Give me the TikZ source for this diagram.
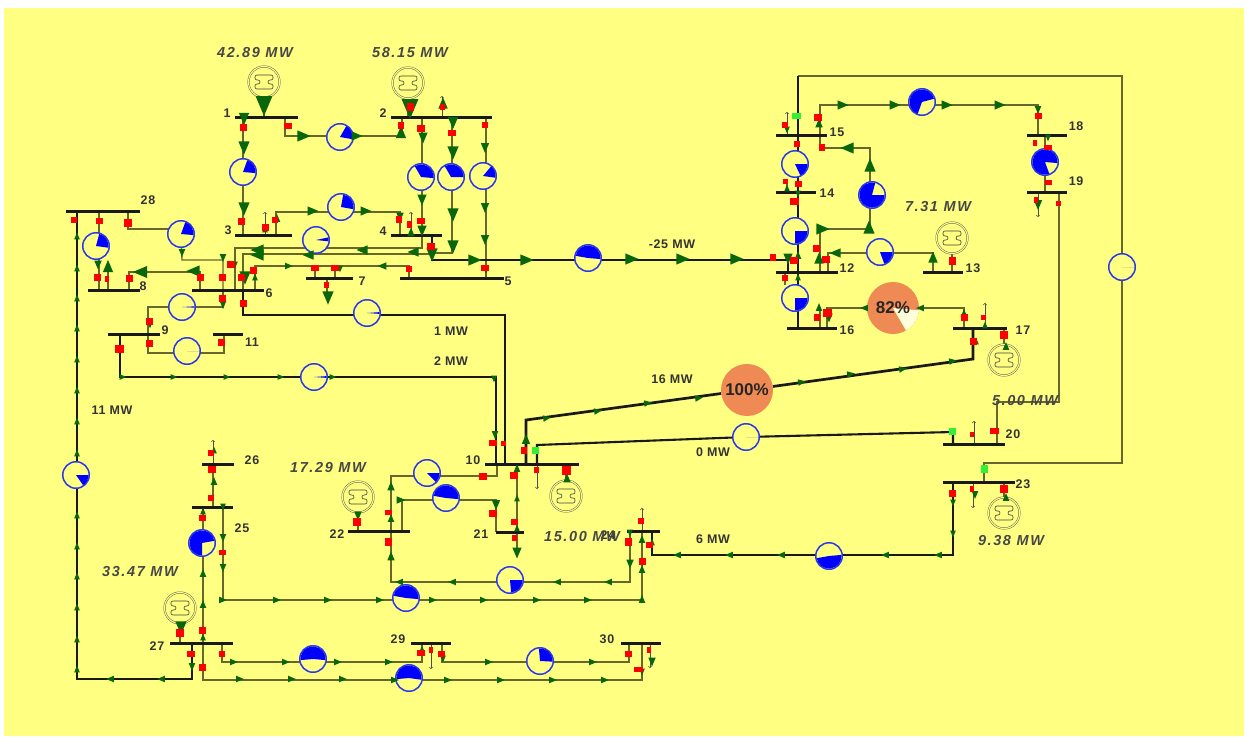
\documentclass[tikz,border=0pt]{standalone}
\usepackage{fontspec}
\setmainfont{Liberation Sans}
\newfontfamily\mwfont[LetterSpace=11]{Liberation Sans}
\newfontfamily\busfont[LetterSpace=5]{Liberation Sans}
\usetikzlibrary{backgrounds}
\definecolor{panel}{HTML}{FFFF82}
\definecolor{wire}{HTML}{66662F}
\definecolor{flowgreen}{HTML}{0A660A}
\definecolor{ringblue}{HTML}{2A3AE8}
\definecolor{hotorange}{HTML}{F08A55}
\definecolor{tiegreen}{HTML}{33F033}

\begin{document}
\begin{tikzpicture}[x=1pt,y=-1pt,
   busbar/.style={fill=black!90,inner sep=0pt,outer sep=0pt,minimum height=3pt},
   meter/.style={circle,draw=ringblue,fill=panel,line width=1.5pt,inner sep=0pt,outer sep=0pt,minimum size=26.5pt},
   hot/.style={circle,fill=hotorange,inner sep=0pt,outer sep=0pt,minimum size=#1},
   gen/.style={circle,draw=black!65,line width=.45pt,double=panel,double distance=1.1pt,inner sep=0pt,minimum size=31pt},
   genglyph/.style={draw=black!75,line width=.6pt,rounded corners=2pt},
   branch/.style={draw=wire,line width=1.3pt},
   heavy/.style={draw=black!90,line width=2.7pt},
   load/.style={draw=black!70,line width=.6pt,->},
   buslabel/.style={font=\busfont\bfseries\fontsize{12.5}{12.5}\selectfont,text=black!80,inner sep=0pt},
   flowlabel/.style={font=\busfont\bfseries\fontsize{12.5}{12.5}\selectfont,text=black!80,inner sep=0pt},
   genlabel/.style={font=\mwfont\bfseries\itshape\fontsize{14.5}{14.5}\selectfont,text=black!72,inner sep=0pt},
   pct/.style={font=\bfseries\fontsize{17}{17}\selectfont,text=black!85,inner sep=0pt}]
\useasboundingbox (0,0) rectangle (1247,736);

% buses
\foreach \name/\xa/\xb/\py in {1/235/298/117,2/391/492/117,3/235/292/235,4/391/442/235,5/400/504/278,
   6/192/264/290,7/306/353/278,8/88/140/290,9/108/160/334,10/485/579/464,11/213/243/334,12/776/838/272,
   13/923/963/272,14/776/816/192,15/776/827/135,16/787/837/328,17/953/1007/328,18/1027/1067/135,
   19/1027/1067/192,20/943/1005/444,21/496/524/532,22/348/410/531,23/943/1015/482,24/627/660/531,
   25/192/233/507,26/202/234/464,27/170/233/643,28/66/140/211,29/411/451/643,30/621/661/643}
  \node[busbar,minimum width={(\xb-\xa)*1pt}] (b\name) at ({(\xa+\xb)/2},\py) {};

% bus numbers
\foreach \name/\px/\py in {1/227/113,2/383/113,3/228/230,4/383/231,5/508/281,6/269/293,7/362/281,8/143/286,
   9/165/330,10/473/460,11/252/342,12/847/268,13/973/268,14/827/193,15/837/132,16/847/330,17/1023/330,
   18/1076/126,19/1076/181,20/1013/434,21/481/534,22/337/534,23/1023/484,24/608/535,25/242/528,26/252/460,
   27/157/646,28/148/200,29/398/639,30/607/639}
  \node[buslabel] (l\name) at (\px,\py) {\name};

% meters, the wedge shows the loading
\foreach \name/\px/\py/\afrom/\ato in {13/243/172/70/-5,12/340/137/60/-10,24/421/177/120/-5,25/451/177/120/0,
   26/483/176/50/-8,34/341/207/80/-10,288/96/246/75/-8,286/181/234/70/-5,46/316/240/12/-6,610/367/313/4/-4,
   69/182/307/3/-3,911/187/351/0/0,910/314/377/4/-4,2827/76/475/0/-55,2527/202/543/10/270,2524/406/598/-5/170,
   2730/409/678/-8/185,2729/313/659/-5/185,2930/540/661/95/-3,2124/510/580/0/-85,1022/427/473/0/-45,
   2122/446/498/-5/170,512/588/258/-5/170,1514/795/164/0/-65,1412/795/231/0/-90,1216/795/298/0/-90,
   1215/872/195/0/-285,1213/880/252/0/-70,1518/922/102/15/250,1819/1045/162/-5/290,1020/746/437/0/0,
   2423/829/556/5/-170,1523/1122/267/0/0}
 {\node[meter] (m\name) at (\px,\py) {};
  \fill[blue] (m\name.center) -- ++(\afrom:12.5pt) arc[start angle=\afrom,end angle=\ato,radius=12.5pt] -- cycle;}

\node[hot=52pt] (m1617) at (893,308) {};
\fill[white!70!panel] (m1617.center) -- ++(-5:26pt) arc[start angle=-5,end angle=-60,radius=26pt] -- cycle;
\node[pct] (t82) at (m1617) {82\%};
\node[hot=52pt] (m1017) at (747,390) {};
\node[pct] (t100) at (m1017) {100\%};

% generators
\foreach \name/\px/\py in {1/264/82,2/408/83,10/566/496,13/952/238,17/1004/360,22/358/497,23/1004/513,27/180/608}
 {\node[gen] (g\name) at (\px,\py) {};
  \draw[genglyph,shift={(g\name)}] (-9,-7) -- (9,-7) -- (9,-2) -- (4,-2) -- (4,2) -- (9,2) -- (9,7) -- (-9,7)
     -- (-9,2) -- (-4,2) -- (-4,-2) -- (-9,-2) -- cycle;}

\begin{scope}[on background layer]
\fill[panel] (4,8) rectangle (1244,736);

\draw[branch] (243,0 |- b1) -- (m13) -- (243,0 |- b3);
\draw[branch] (285,0 |- b1) -- (285,136) -- (m12 |- 0,136) -- (402,136) -- (402,0 |- b2);
\draw[branch] (276,0 |- b3) -- (276,212) -- (m34 |- 0,212) -- (400,212) -- (400,0 |- b4);
\draw[branch] (422,0 |- b2) -- (422,0 |- b4);
\draw[branch] (452,0 |- b2) -- (452,253) -- (432,253);
\draw[branch] (486,0 |- b2) -- (486,0 |- b5);
\draw[branch] (235,0 |- b6) -- (235,248) -- (422,248) -- (422,0 |- b4);
\draw[branch] (243,0 |- b6) -- (243,254) -- (432,254);
\draw[branch] (255,0 |- b6) -- (255,266) -- (409,266) -- (409,0 |- b5);
\draw[branch] (315,0 |- b7) -- (315,266);
\draw[branch] (335,0 |- b7) -- (335,266);
\draw[branch] (327,0 |- b7) -- (327,298);
\draw[branch] (99,0 |- b28) -- (99,0 |- b8);
\draw[branch] (128,0 |- b28) -- (128,229) -- (m286 |- 0,229);
\draw[branch] (m286) -- (182,260) -- (223,260) -- (223,0 |- b6);
\draw[branch] (129,0 |- b8) -- (129,272) -- (200,272) -- (200,0 |- b6);
\draw[branch] (108,0 |- b8) -- (108,267);
\draw[branch] (223,0 |- b6) -- (223,307) -- (m69) -- (148,307) -- (148,353) -- (m911 |- 0,353) -- (224,353) -- (224,0 |- b11);
\draw[branch] (203,0 |- b27) -- (203,0 |- b25);
\draw[branch] (223,0 |- b25) -- (223,600) -- (m2524 |- 0,600) -- (642,600) -- (642,0 |- b24);
\draw[branch] (203,0 |- b27) -- (203,680) -- (m2730 |- 0,680) -- (642,680) -- (642,0 |- b30);
\draw[branch] (222,0 |- b27) -- (222,662) -- (m2729 |- 0,662) -- (422,662) -- (422,0 |- b29);
\draw[branch] (442,0 |- b29) -- (442,662) -- (m2930 |- 0,662) -- (629,662) -- (629,0 |- b30);
\draw[branch] (213,0 |- b25) -- (213,0 |- b26);
\draw[branch] (630,0 |- b24) -- (630,582) -- (m2124 |- 0,582) -- (391,582) -- (391,476) -- (m1022 |- 0,476) -- (497,476) -- (497,0 |- b10);
\draw[branch] (402,0 |- b22) -- (402,500) -- (m2122 |- 0,500) -- (496,500) -- (496,0 |- b21);
\draw[branch] (517,0 |- b10) -- (517,553);
\draw[branch] (566,0 |- b10) -- (g10);
\draw[branch] (358,0 |- b22) -- (g22);
\draw[branch] (180,0 |- b27) -- (g27);
\draw[branch] (264,0 |- b1) -- (g1);
\draw[branch] (408,0 |- b2) -- (g2);
\draw[branch] (952,0 |- b13) -- (g13);
\draw[branch] (1004,0 |- b17) -- (g17);
\draw[branch] (1004,0 |- b23) -- (g23);
\draw[branch] (798,76) -- (1122,76) -- (m1523) -- (1122,463) -- (984,463) -- (984,0 |- b23);
\draw[branch] (820,0 |- b15) -- (820,105) -- (m1518 |- 0,105) -- (1038,105) -- (1038,0 |- b18);
\draw[branch] (820,0 |- b15) -- (820,148) -- (870,148) -- (870,229) -- (820,229) -- (820,0 |- b12);
\draw[branch] (828,0 |- b12) -- (828,253) -- (m1213 |- 0,253) -- (933,253) -- (933,0 |- b13);
\draw[branch] (787,0 |- b14) -- (787,181);
\draw[branch] (785,0 |- b12) -- (785,285);
\draw[branch] (820,0 |- b16) -- (820,308);
\draw[branch] (827,0 |- b16) -- (827,308) -- (m1617) -- (964,308) -- (964,0 |- b17);
\draw[branch] (1045,0 |- b18) -- (1045,0 |- b19);
\draw[branch] (1059,0 |- b19) -- (1059,402) -- (997,402) -- (997,0 |- b20);

\draw[heavy] (77,0 |- b28) -- (77,679) -- (192,679) -- (192,0 |- b27);
\draw[heavy] (120,0 |- b9) -- (120,377) -- (m910) -- (496,377) -- (496,0 |- b10);
\draw[heavy] (243,0 |- b6) -- (243,315) -- (m610 |- 0,315) -- (505,315) -- (505,0 |- b10);
\draw[heavy] (432,0 |- b4) -- (432,260) -- (m512 |- 0,260) -- (788,260) -- (788,0 |- b12);
\draw[heavy] (526,0 |- b10) -- (526,420) -- (m1017) -- (973,359) -- (973,0 |- b17);
\draw[heavy,line width=2.1pt] (537,0 |- b10) -- (537,445) -- (m1020) -- (953,432) -- (953,0 |- b20);
\draw[heavy] (652,0 |- b24) -- (652,555) -- (m2423 |- 0,555) -- (953,555) -- (953,0 |- b23);
\draw[heavy,line width=2pt] (798,76) -- (798,0 |- b16);

\draw[load] (265,0 |- b3) -- (265,212);
\draw[load] (411,0 |- b4) -- (411,212);
\draw[load] (442,0 |- b2) -- (442,96);
\draw[load] (213,0 |- b26) -- (213,440);
\draw[load] (431,0 |- b29) -- (431,669);
\draw[load] (650,0 |- b30) -- (650,668);
\draw[load] (642,0 |- b24) -- (642,508);
\draw[load] (537,0 |- b10) -- (537,489);
\draw[load] (787,0 |- b15) -- (787,112);
\draw[load] (985,0 |- b17) -- (985,303);
\draw[load] (1038,0 |- b19) -- (1038,217);
\draw[load] (974,0 |- b20) -- (974,421);
\draw[load] (973,0 |- b23) -- (973,508);
\end{scope}

% power flow triangles
\foreach \px/\py/\ang/\s in {264/106/-90/9,410/109/-90/9,181/628/-90/6,567/478/90/4,358/516/-90/4,1006/346/90/3.5,1006/497/90/3.5,
   244/119/-90/5.5,244/148/-90/6,244/209/-90/6,304/136/0/6,357/136/0/5,401/132/90/5.5,443/103/90/5,423/138/-90/5,422/200/-90/5,
   422/231/-90/5,453/123/-90/5.5,453/153/-90/6,453/215/-90/6,453/247/-90/6,485/148/-90/4.5,485/208/-90/4.5,485/240/-90/4.5,
   486/270/-90/3.5,432/255/-90/6,475/260/0/6,527/260/0/6,632/259/0/6,683/259/0/6,737/259/0/6,313/211/0/5,366/211/0/5,400/217/-90/4,
   411/232/90/4,277/218/90/3.5,265/229/90/3,
   77/236/90/3,77/268/90/3,77/298/90/3,77/328/90/3,77/359/90/3,77/390/90/3,77/421/90/3,77/453/90/3,77/515/90/3,77/546/90/3,
   77/576/90/3,77/607/90/3,77/639/90/3,77/669/90/3,110/679/180/3.5,161/679/180/3.5,192/667/-90/3.5,
   98/265/-90/4,108/266/90/5.5,140/272/180/6.5,193/271/180/6,182/253/-90/3.5,223/258/-90/3.5,223/305/-90/3.5,150/325/-90/3,
   257/250/180/6,257/255/180/6,235/265/-90/3,245/278/-90/6,255/277/90/3,289/266/0/3.5,308/255/180/5,362/250/180/5,413/252/180/5,
   382/266/180/4,340/269/-90/3,328/298/-90/6,123/377/0/3,174/377/0/3,227/377/0/3,281/377/0/3,333/377/0/3,494/379/-90/3,495/435/-90/3.5,
   214/450/90/3,214/481/90/3.5,203/511/90/3,223/507/-90/3,223/538/-90/3.5,223/568/-90/3.5,203/573/90/3.5,203/604/90/3.5,203/637/90/3,
   223/600/0/3.5,277/600/0/3.5,328/600/0/3.5,380/600/0/3.5,433/600/0/3.5,484/600/0/3.5,537/600/0/3.5,588/600/0/3.5,642/599/90/3.5,
   642/569/90/3.5,642/539/90/3.5,630/533/-90/3,630/564/-90/4,608/582/180/3.5,557/582/180/3.5,452/582/180/3.5,399/582/180/3.5,
   391/556/90/4,391/518/90/3.5,391/486/90/4,401/500/0/4,496/505/-90/4.5,517/468/90/3.5,517/498/90/3,517/528/90/3,517/553/-90/5,526/439/90/4.5,
   240/679/0/3.5,292/679/0/3.5,343/679/0/3.5,395/680/0/3.5,448/680/0/3.5,501/680/0/3.5,553/680/0/3.5,605/680/0/3.5,
   234/662/0/3.5,286/662/0/3.5,338/662/0/3.5,389/662/0/3.5,489/662/0/3.5,593/662/0/3.5,422/649/90/3,443/659/-90/3,642/672/-90/3,652/662/-90/4,652/542/90/3,
   547/418/8/3.5,598/411/8/3.5,648/403/8/3.5,699/398/8/3.5,802/382/8/3.5,851/374/8/3.5,903/369/8/3.5,953/361/8/3.5,
   677/555/180/3.5,729/555/180/3.5,781/555/180/3.5,885/555/180/3.5,938/555/180/3.5,953/534/-90/3,953/503/-90/3,
   787/130/-90/3,819/123/90/4,843/105/0/5,895/105/0/5,947/105/0/5,1000/105/0/5,1038/110/-90/3.5,1048/138/-90/3,787/188/90/3,798/194/-90/3,
   798/255/90/3.5,788/259/-90/5,798/277/90/3,819/258/90/5,823/229/0/6,869/227/90/6,870/165/90/6,847/148/180/6,835/253/180/5,933/257/90/5,
   819/307/90/3.5,829/318/-90/4,864/308/180/3.5,920/308/180/3.5,964/313/90/3.5,985/325/90/3,976/341/90/3,975/495/-90/3.5,1038/205/-90/4.5}
  \fill[flowgreen,shift={(\px,\py)},rotate=\ang,scale=1.1] (\s,0) -- (-\s,{.85*\s}) -- (-\s,{-.85*\s}) -- cycle;

% breakers
\foreach \px/\py/\w/\h in {243/127/7/7,288/126/8/6,241/221/7/7,401/125/6/7,410/107/7/8,442/107/5/6,421/128/8/7,421/221/8/6,452/133/8/6,
   485/125/6/6,431/246/8/7,485/268/8/6,399/219/6/7,409/224/5/7,275/220/6/6,265/227/7/7,74/220/6/6,99/221/7/6,128/223/8/8,97/277/7/7,
   107/279/4/6,129/278/7/7,200/277/7/7,222/277/7/7,222/298/7/7,243/303/7/7,231/264/8/7,241/277/7/7,253/270/7/7,315/268/8/6,335/268/8/6,
   326/285/5/6,409/269/6/6,149/321/7/7,149/343/7/7,221/342/7/7,119/349/9/8,493/443/8/6,503/443/5/5,524/450/6/7,514/475/8/7,514/522/7/6,
   514/538/5/6,536/470/5/6,566/470/9/9,483/476/8/7,493/513/8/7,388/512/7/5,388/542/7/8,357/522/8/8,641/521/6/6,642/561/7/7,628/542/7/8,
   649/545/7/6,211/453/6/6,212/469/8/7,211/498/6/6,202/518/7/6,222/552/7/5,202/630/7/7,180/633/8/8,191/654/8/6,202/667/7/7,222/654/6/6,
   421/653/8/6,431/650/4/6,441/654/7/6,628/654/7/6,638/669/9/5,649/650/4/6,773/257/6/7,785/125/6/6,818/117/8/7,822/147/6/7,797/144/6/6,
   798/184/7/6,785/181/5/5,794/201/9/7,794/260/8/7,816/248/7/7,826/259/8/7,785/278/6/6,817/317/6/7,827/313/9/8,952/261/7/8,964/317/7/7,
   983/317/5/5,1004/335/8/8,973/341/7/7,1038/116/7/6,1035/143/4/6,1048/147/8/5,1048/182/7/5,1036/200/4/6,1058/203/5/5,994/431/9/6,
   972/434/4/5,952/493/7/7,972/489/4/6,1004/489/8/8}
  \fill[red] ({\px-\w/2},{\py-\h/2}) rectangle ++(\w,\h);

% closed ties
\foreach \px/\py/\w/\h in {796/116/9/6,535/450/7/7,952/431/7/7,984/469/7/8}
  \fill[tiegreen] ({\px-\w/2},{\py-\h/2}) rectangle ++(\w,\h);

\node[genlabel] (p1) at (255,53) {42.89 MW};
\node[genlabel] (p2) at (410,53) {58.15 MW};
\node[genlabel] (p13) at (938,207) {7.31 MW};
\node[genlabel] (p20) at (1025,401) {5.00 MW};
\node[genlabel] (p22) at (328,468) {17.29 MW};
\node[genlabel] (p24) at (582,537) {15.00 MW};
\node[genlabel] (p23) at (1011,541) {9.38 MW};
\node[genlabel] (p27) at (140,572) {33.47 MW};

\node[flowlabel] (f512) at (672,244) {-25 MW};
\node[flowlabel] (f610) at (451,331) {1 MW};
\node[flowlabel] (f910) at (451,361) {2 MW};
\node[flowlabel] (f1017) at (672,379) {16 MW};
\node[flowlabel] (f1020) at (713,452) {0 MW};
\node[flowlabel] (f2423) at (713,539) {6 MW};
\node[flowlabel] (f2827) at (112,410) {11 MW};
\end{tikzpicture}
\end{document}
